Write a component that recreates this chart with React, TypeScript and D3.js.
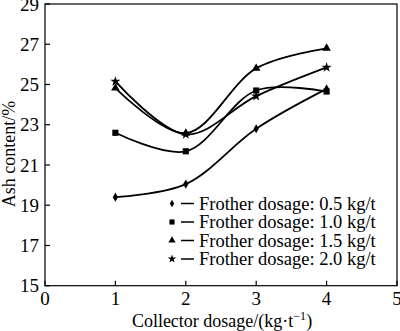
import React from "react";
import * as d3 from "d3";

const collector = [1, 2, 3, 4];
const seriesNames = [
  "Frother dosage: 0.5 kg/t",
  "Frother dosage: 1.0 kg/t",
  "Frother dosage: 1.5 kg/t",
  "Frother dosage: 2.0 kg/t",
];
const ash05 = [19.4, 20.05, 22.8, 24.78];
const ash10 = [22.6, 21.68, 24.7, 24.65];
const ash15 = [24.82, 22.58, 25.8, 26.8];
const ash20 = [25.15, 22.52, 24.42, 25.85];
const xTicks = [0, 1, 2, 3, 4, 5];
const yTicks = [15, 17, 19, 21, 23, 25, 27, 29];

const W = 400;
const H = 331;
const left = 45;
const right = 397;
const top = 4;
const bottom = 285.7;
const font = "'Liberation Serif', 'Times New Roman', serif";

export default function App() {
  const x = d3.scaleLinear().domain([0, 5]).range([left, right]);
  const y = d3.scaleLinear().domain([15, 29]).range([bottom, top]);
  const line = d3
    .line<[number, number]>()
    .x((d) => x(d[0]))
    .y((d) => y(d[1]))
    .curve(d3.curveCatmullRom.alpha(0.5));

  const all = [ash05, ash10, ash15, ash20];
  const symbols = [
    { type: d3.symbolDiamond, size: 24 },
    { type: d3.symbolSquare, size: 38 },
    { type: d3.symbolTriangle, size: 32 },
    { type: d3.symbolStar, size: 32 },
  ];

  const legendY = [203.5, 222, 240.5, 259];

  return (
    <svg
      width={W}
      height={H}
      style={{ position: "absolute", left: 0, top: 0, background: "#fff" }}
      fontFamily={font}
    >
      <rect x={0} y={0} width={W} height={H} fill="#fff" />
      <rect
        x={left}
        y={top}
        width={right - left}
        height={bottom - top}
        fill="none"
        stroke="#000"
        strokeWidth={1.2}
      />
      {yTicks.map((t) => (
        <g key={"y" + t}>
          <line x1={left} x2={left + 5} y1={y(t)} y2={y(t)} stroke="#000" strokeWidth={1.2} />
          <text x={39} y={y(t)} dy="0.35em" textAnchor="end" fontSize={19}>
            {t}
          </text>
        </g>
      ))}
      {xTicks.map((t) => (
        <g key={"x" + t}>
          <line x1={x(t)} x2={x(t)} y1={bottom} y2={bottom - 5} stroke="#000" strokeWidth={1.2} />
          <text x={x(t)} y={305} textAnchor="middle" fontSize={19}>
            {t}
          </text>
        </g>
      ))}
      <text
        transform={`translate(15,154) rotate(-90)`}
        textAnchor="middle"
        fontSize={18}
      >
        Ash content/%
      </text>
      <text x={222} y={327} textAnchor="middle" fontSize={18}>
        Collector dosage/(kg·t
        <tspan dy={-7} fontSize={12}>−1</tspan>
        <tspan dy={7}>)</tspan>
      </text>
      {all.map((vals, i) => {
        const pts: [number, number][] = collector.map((c, j) => [c, vals[j]]);
        const sym = d3.symbol().type(symbols[i].type).size(symbols[i].size)();
        return (
          <g key={"s" + i}>
            <path d={line(pts) || ""} fill="none" stroke="#000" strokeWidth={1.8} />
            {pts.map((p, j) => (
              <path
                key={j}
                d={sym || ""}
                transform={`translate(${x(p[0])},${y(p[1])})`}
                fill="#000"
              />
            ))}
          </g>
        );
      })}
      {seriesNames.map((name, i) => {
        const sym = d3.symbol().type(symbols[i].type).size(symbols[i].size * 0.7)();
        return (
          <g key={"l" + i}>
            <path d={sym || ""} transform={`translate(172,${legendY[i]})`} fill="#000" />
            <line x1={181} x2={194} y1={legendY[i]} y2={legendY[i]} stroke="#000" strokeWidth={1.5} />
            <text x={199} y={legendY[i]} dy="0.35em" fontSize={18.5}>
              {name}
            </text>
          </g>
        );
      })}
    </svg>
  );
}
